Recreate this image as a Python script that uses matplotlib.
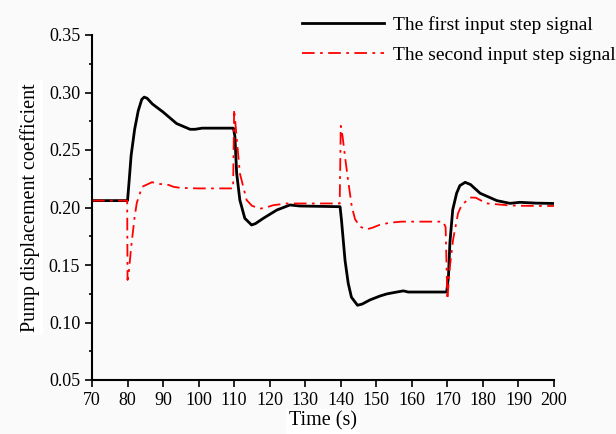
import matplotlib.pyplot as plt
import numpy as np

plt.rcParams['font.family'] = ['Liberation Serif', 'DejaVu Serif']

# first input step signal (black)
t1 = [70, 79.9, 80.0, 80.5, 81, 82, 83, 84, 84.7, 85.5, 87, 90, 93.8, 97.6, 99, 101, 109.8,
      110.2, 110.7, 111.6, 113, 114.9, 116, 118.2, 122, 125.7, 128.5, 139.8,
      140.2, 141.2, 142.1, 143, 144.7, 146, 148.2, 151, 152.9, 154, 157.6, 159, 169.8,
      170.3, 170.7, 171.5, 172.6, 173.5, 175, 176.5, 179.2, 183.9, 187.6, 190.4, 195, 200]
y1 = [0.206, 0.206, 0.206, 0.225, 0.245, 0.268, 0.284, 0.294, 0.296, 0.295, 0.290, 0.283, 0.273, 0.268, 0.268, 0.269, 0.269,
      0.262, 0.230, 0.2065, 0.1906, 0.1848, 0.186, 0.1906, 0.1978, 0.2022, 0.2013, 0.2007,
      0.189, 0.154, 0.134, 0.122, 0.115, 0.116, 0.1196, 0.123, 0.1248, 0.1255, 0.1275, 0.1265, 0.1265,
      0.140, 0.169, 0.198, 0.2124, 0.219, 0.2219, 0.220, 0.2124, 0.206, 0.2036, 0.2045, 0.2038, 0.2035]

# second input step signal (red)
t2 = [70, 79.9, 80.0, 80.4, 81, 82, 82.6, 84.1, 86.9, 89, 91.6, 92.9, 95, 100, 109.7,
      110, 110.5, 111.6, 113.5, 115, 117.3, 119, 121, 124.8, 139.7,
      140, 140.5, 141.2, 142, 143.1, 144, 145.4, 147.3, 149, 151, 153.9, 157, 168.8,
      169.5, 170, 170.7, 171.6, 173, 174, 176.4, 178, 181, 186.7, 190, 200]
y2 = [0.206, 0.206, 0.137, 0.145, 0.165, 0.192, 0.204, 0.218, 0.222, 0.2205, 0.2196, 0.218, 0.217, 0.2166, 0.2166,
      0.2854, 0.268, 0.2298, 0.2065, 0.2015, 0.199, 0.200, 0.202, 0.2035, 0.2035,
      0.271, 0.262, 0.244, 0.225, 0.2008, 0.190, 0.1833, 0.181, 0.1825, 0.185, 0.1868, 0.1877, 0.1877,
      0.183, 0.120, 0.1485, 0.172, 0.195, 0.202, 0.2087, 0.2085, 0.2036, 0.202, 0.2015, 0.2013]

labels = ['The first input step signal', 'The second input step signal']

fig = plt.figure(figsize=(6.16, 4.34), dpi=100, facecolor='#fafafa')
ax = fig.add_axes([92/616, 54/434, 462/616, 345/434])
ax.set_facecolor('#fafafa')

ax.plot(t1, y1, color='black', lw=2.0, label=labels[0])
ax.plot(t2, y2, color='red', lw=1.3, dashes=(7, 3, 1.5, 3), label=labels[1])

ax.set_xlim(70, 200)
ax.set_ylim(0.05, 0.35)
ax.set_xticks(np.arange(70, 201, 10))
ax.set_yticks(np.arange(0.05, 0.351, 0.05))
ax.set_yticks(np.arange(0.075, 0.35, 0.05), minor=True)
ax.yaxis.set_major_formatter(plt.FormatStrFormatter('%.2f'))

for s in ['top', 'right']:
    ax.spines[s].set_visible(False)
for s in ['left', 'bottom']:
    ax.spines[s].set_linewidth(1.5)
ax.tick_params(which='major', direction='out', length=5, width=1.2, labelsize=13)
ax.tick_params(which='minor', direction='out', length=2.5, width=1.2)

ax.set_xlabel('Time (s)', fontsize=14.5, labelpad=2,
              bbox=dict(facecolor='white', edgecolor='none', pad=2))
ax.set_ylabel('Pump displacement coefficient', fontsize=14.5, labelpad=6,
              bbox=dict(facecolor='white', edgecolor='none', pad=2))

fig.legend(loc='upper left', bbox_to_anchor=(302/616, 1 - 16/434), frameon=False,
           fontsize=14, handlelength=4.2, handletextpad=0.5, labelspacing=0.65,
           borderpad=0, borderaxespad=0)

plt.savefig('out.png', dpi=100, facecolor=fig.get_facecolor())
